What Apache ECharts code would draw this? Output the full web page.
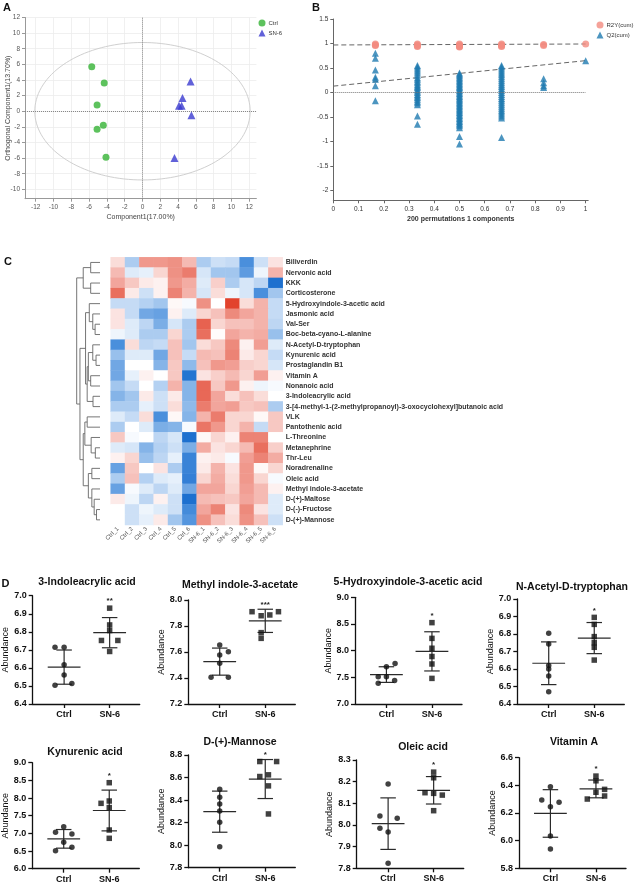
<!DOCTYPE html>
<html>
<head>
<meta charset="utf-8">
<script src="https://cdn.jsdelivr.net/npm/echarts@6.0.0/dist/echarts.min.js"></script>
<style>html,body{margin:0;padding:0;background:#fff;}#chart{width:634px;height:885px;}</style>
</head>
<body>
<div id="chart"></div>
<script>
// ================= DATA =================
// Panel A (OPLS-DA score plot)
const plsCtrl = [[-5.7,5.7],[-4.3,3.6],[-5.1,0.8],[-4.4,-1.8],[-5.1,-2.3],[-4.1,-5.9]];
const plsSN6  = [[5.4,3.8],[4.5,1.7],[4.1,0.7],[4.4,0.7],[5.5,-0.5],[3.6,-6.0]];
const ellipseCenter = [0, 0];
const ellipseRadii = [12.1, 8.8];
const plsXTicks = [-12,-10,-8,-6,-4,-2,0,2,4,6,8,10,12];
const plsYTicks = [-10,-8,-6,-4,-2,0,2,4,6,8,10,12];

// Panel B (permutation test)
const permX = [0.1667, 0.3333, 0.5, 0.6667, 0.8333, 1];
const r2yAt = [
  [0.99,0.97,0.96],
  [0.99,0.97,0.95,0.94],
  [0.99,0.97,0.95,0.94,0.93],
  [0.99,0.97,0.95,0.94],
  [0.98,0.96],
  [0.99]
];
const q2At1 = [0.80,0.70,0.46,0.31,0.27,0.14,-0.17];
const q2At2 = [0.55,0.52,0.48,0.44,0.40,0.35,0.30,0.27,0.23,0.20,0.16,0.13,0.10,0.06,0.03,0.00,-0.04,-0.07,-0.10,-0.14,-0.18,-0.21,-0.25,-0.48,-0.65];
const q2At3 = [0.40,0.37,0.34,0.31,0.28,0.25,0.22,0.19,0.16,0.13,0.10,0.07,0.04,0.01,-0.02,-0.05,-0.08,-0.11,-0.14,-0.17,-0.20,-0.23,-0.26,-0.29,-0.32,-0.35,-0.38,-0.41,-0.44,-0.47,-0.50,-0.53,-0.56,-0.59,-0.62,-0.65,-0.68,-0.72,-0.90,-1.05];
const q2At4 = [0.55,0.52,0.48,0.44,0.40,0.36,0.32,0.28,0.24,0.20,0.16,0.12,0.08,0.04,0.00,-0.04,-0.08,-0.12,-0.16,-0.20,-0.24,-0.28,-0.32,-0.36,-0.40,-0.44,-0.48,-0.52,-0.92];
const q2At5 = [0.28,0.20,0.14,0.10];
const q2At6 = [0.65];
const r2yFit = [[0,0.97],[1,0.99]];
const q2Fit = [[0,0.13],[1,0.65]];
const permXTicks = [0,0.1,0.2,0.3,0.4,0.5,0.6,0.7,0.8,0.9,1];
const permYTicks = [-2,-1.5,-1,-0.5,0,0.5,1,1.5];

// Panel C (heatmap)
const samples = ['Ctrl_1','Ctrl_2','Ctrl_3','Ctrl_4','Ctrl_5','Ctrl_6','SN-6_1','SN-6_2','SN-6_3','SN-6_4','SN-6_5','SN-6_6'];
const metabolites = ['Biliverdin','Nervonic acid','KKK','Corticosterone','5-Hydroxyindole-3-acetic acid','Jasmonic acid','Val-Ser','Boc-beta-cyano-L-alanine','N-Acetyl-D-tryptophan','Kynurenic acid','Prostaglandin B1','Vitamin A','Nonanoic acid','3-Indoleacrylic acid','3-[4-methyl-1-(2-methylpropanoyl)-3-oxocyclohexyl]butanoic acid','VLK','Pantothenic acid','L-Threonine','Metanephrine','Thr-Leu','Noradrenaline','Oleic acid','Methyl indole-3-acetate','D-(+)-Maltose','D-(-)-Fructose','D-(+)-Mannose'];
const heatValues = [
 [0.5,-1.0,1.5,1.5,1.6,1.0,-1.0,-0.6,-0.7,-2.0,-0.6,0.4],
 [1.0,-0.4,-0.3,0.6,1.6,1.9,-0.5,-1.1,-1.1,-1.8,-0.2,1.1],
 [1.3,0.8,0.3,0.2,1.5,1.2,-0.4,0.7,-1.0,-0.5,-0.8,-2.8],
 [2.1,0.3,-0.6,0.2,1.8,1.1,-0.5,0.5,-0.2,-0.5,-2.0,-1.1],
 [-0.7,-0.7,-0.9,-1.1,0.1,-0.1,1.6,0.0,2.8,0.5,1.1,-0.7],
 [0.4,-0.7,-1.6,-1.7,0.2,-0.4,0.6,0.9,1.7,1.3,1.1,-0.7],
 [0.4,-0.4,-0.8,-1.5,-0.5,-1.0,2.3,0.6,0.9,0.9,1.1,-0.8],
 [-0.2,-0.4,-1.0,-1.0,0.6,-1.0,2.1,0.05,1.3,1.1,1.2,-1.2],
 [-2.0,0.5,-0.8,-0.7,0.9,-1.1,0.5,0.8,1.7,0.2,1.4,-0.4],
 [-1.2,-0.4,-0.4,-1.6,0.9,-0.7,1.0,0.9,1.8,0.3,0.6,-0.7],
 [-1.6,0.0,0.0,-1.4,0.8,-1.3,0.9,1.5,1.4,0.7,0.6,-0.5],
 [-1.6,-0.3,0.2,0.0,0.8,-2.7,0.4,0.7,1.0,0.6,1.4,0.2],
 [-1.1,-0.7,0.0,-0.9,1.1,-1.4,2.2,0.8,1.5,0.2,-0.2,-0.1],
 [-1.4,-1.1,0.3,-0.6,0.3,-1.4,2.2,1.3,0.5,0.9,0.5,0.0],
 [-1.0,-1.0,-0.3,-0.6,0.5,-1.3,1.9,1.3,1.4,0.8,0.9,-1.0],
 [-0.4,-0.7,0.5,-2.0,0.1,-1.4,1.1,1.9,0.6,0.6,0.1,0.8],
 [-1.0,0.0,-0.4,-1.5,-1.4,-0.1,2.0,1.5,0.6,1.1,-0.7,0.8],
 [0.8,-0.1,0.0,-0.8,-0.5,-2.8,0.1,0.6,0.2,1.8,1.8,0.0],
 [-0.4,-0.5,-1.4,-0.9,-0.6,-1.5,1.2,0.4,0.6,1.0,2.1,0.7],
 [0.2,0.6,-1.2,-0.8,-0.3,-2.3,0.2,0.3,-0.1,1.4,1.8,1.2],
 [-1.7,0.8,0.0,0.4,-1.0,-2.3,0.3,1.1,0.4,1.5,0.1,0.6],
 [-1.0,0.9,-0.9,-0.4,-0.3,-2.4,0.6,1.2,0.5,1.5,0.6,-0.1],
 [-1.7,-0.1,-0.4,-0.8,-0.4,-1.6,1.3,1.3,0.6,1.4,1.0,0.2],
 [0.3,-0.2,-0.8,0.2,-0.6,-2.8,1.0,0.9,0.8,1.3,1.0,-0.4],
 [0.0,-0.6,-0.2,-0.4,-0.6,-2.1,1.3,1.8,0.4,1.7,0.4,-0.4],
 [0.0,-0.6,-0.3,0.3,-1.1,-1.9,1.6,0.9,0.5,1.6,0.9,-0.6]
];
// row dendrogram: [left, right, mergeHeight]; leaves are row indices
const dendroTop = [[0,1,0.4],[2,3,0.4],0.72];
const dendroLowerA = [[4,[5,[6,7,0.21],0.31],0.46],[[[8,[9,10,0.17],0.31],[11,12,0.4],0.5],[13,14,0.3],0.55],0.62];
const dendroLowerB = [[[15,16,0.55],[17,[18,19,0.2],0.38],0.65],[[20,21,0.35],[22,[23,[24,25,0.15],0.25],0.35],0.5],0.72];
const dendroRoot = [dendroTop, [dendroLowerA, dendroLowerB, 0.86], 1.0];

// Panel D (dot plots, mean ± SD)
const groupNames = ['Ctrl','SN-6'];
const dTitles = ['3-Indoleacrylic acid','Methyl indole-3-acetate','5-Hydroxyindole-3-acetic acid','N-Acetyl-D-tryptophan','Kynurenic acid','D-(+)-Mannose','Oleic acid','Vitamin A'];
const dSig = ['**','***','*','*','*','*','*','*'];
const dYScale = [[6.4,7.0,0.1],[7.2,8.0,0.2],[7.0,9.0,0.5],[6.4,7.0,0.1],[6.0,9.0,0.5],[7.8,8.8,0.2],[7.8,8.3,0.1],[5.8,6.6,0.2]];
const iaCtrl = [6.715,6.715,6.618,6.56,6.504,6.514],   iaCtrlJit = [-0.2,0,0,0,-0.2,0.17];
const iaSN6  = [6.931,6.838,6.807,6.752,6.752,6.691],  iaSN6Jit  = [0,0,0,-0.18,0.18,0];
const miaCtrl = [7.654,7.602,7.577,7.513,7.405,7.405], miaCtrlJit = [0,0.19,0,0,-0.19,0.19];
const miaSN6  = [7.91,7.879,7.885,7.91,7.749,7.705],   miaSN6Jit  = [-0.29,-0.09,0.1,0.29,-0.09,-0.09];
const hiaaCtrl = [7.70,7.76,7.51,7.51,7.39,7.44],      hiaaCtrlJit = [0,0.19,-0.18,0,-0.18,0.18];
const hiaaSN6  = [8.525,8.23,8.045,7.89,7.75,7.48],    hiaaSN6Jit  = [0,0,0,0,0,0];
const natCtrl = [6.804,6.743,6.62,6.60,6.56,6.47],     natCtrlJit = [0,0,0,0,0,0];
const natSN6  = [6.895,6.855,6.785,6.75,6.724,6.651],  natSN6Jit  = [0,0,0,0,0,0];
const kynaCtrl = [7.19,7.03,6.98,6.75,6.51,6.61],      kynaCtrlJit = [0,-0.18,0.18,0,-0.18,0.18];
const kynaSN6  = [8.434,7.85,7.916,7.73,7.095,6.86],   kynaSN6Jit  = [0,-0.18,0,0,0,0];
const manCtrl = [8.497,8.426,8.366,8.304,8.203,7.987], manCtrlJit = [0,0,0,0,0,0];
const manSN6  = [8.742,8.742,8.624,8.609,8.526,8.277], manSN6Jit  = [-0.12,0.25,0.07,-0.12,0.07,0.07];
const oleCtrl = [8.189,8.041,8.031,7.985,7.968,7.823], oleCtrlJit = [0,-0.18,0.2,-0.18,0,0];
const oleSN6  = [8.244,8.218,8.149,8.146,8.138,8.066], oleSN6Jit  = [0,0,-0.19,0,0.19,0];
const vitaCtrl = [6.39,6.294,6.277,6.245,6.034,5.94],  vitaCtrlJit = [0,-0.19,0.19,0,0,0];
const vitaSN6  = [6.467,6.433,6.35,6.371,6.323,6.301], vitaSN6Jit  = [0,0,0,0.19,0.19,-0.19];

// ================= BUILD =================
const FONT = '"Liberation Sans", Arial, Helvetica, sans-serif';
const chart = echarts.init(document.getElementById('chart'), null, {renderer:'canvas', width:634, height:885});

const dGroups = [
  [iaCtrl,iaCtrlJit,iaSN6,iaSN6Jit],[miaCtrl,miaCtrlJit,miaSN6,miaSN6Jit],
  [hiaaCtrl,hiaaCtrlJit,hiaaSN6,hiaaSN6Jit],[natCtrl,natCtrlJit,natSN6,natSN6Jit],
  [kynaCtrl,kynaCtrlJit,kynaSN6,kynaSN6Jit],[manCtrl,manCtrlJit,manSN6,manSN6Jit],
  [oleCtrl,oleCtrlJit,oleSN6,oleSN6Jit],[vitaCtrl,vitaCtrlJit,vitaSN6,vitaSN6Jit]
];
// layout of D plots (pixels)
const dLayout = [
  {left:32.7, top:595.7, height:108.3, tx:87,  ty:581.7},
  {left:188.3,top:600,   height:104,   tx:240, ty:585},
  {left:355,  top:597.3, height:106.7, tx:408, ty:582.3},
  {left:517.3,top:599,   height:105,   tx:572, ty:587.3},
  {left:32.3, top:762.7, height:106,   tx:85,  ty:751.7},
  {left:188.3,top:755,   height:112.7, tx:240, ty:742.3},
  {left:356.7,top:760,   height:108.3, tx:423, ty:746.7},
  {left:519,  top:757.7, height:110.6, tx:574, ty:742.3}
];

const grids = [
  {left:25, top:17.5, width:231.4, height:181.2},
  {left:333.3, top:19, width:254.9, height:181.3},
  {left:110.7, top:257.3, width:172, height:267.7},
  {left:76.7, top:257.3, width:23.3, height:267.7}
];
dLayout.forEach(l => grids.push({left:l.left, top:l.top, width:107, height:l.height}));
grids.forEach(g => { g.outerBoundsMode = 'none'; g.containLabel = false; });

const xAxes = [], yAxes = [];
// A axes
xAxes.push({type:'value', gridIndex:0, min:-13.2, max:12.8,
  axisLine:{show:true, onZero:false, lineStyle:{color:'#999', width:1}},
  axisTick:{show:true, customValues:plsXTicks, length:3, lineStyle:{color:'#999'}},
  axisLabel:{customValues:plsXTicks, fontSize:6.5, color:'#555', margin:5, fontFamily:FONT},
  splitLine:{show:true, lineStyle:{color:'#ececec', width:0.8}},
  name:'Component1(17.00%)', nameLocation:'middle', nameGap:15, nameMoveOverlap:false, nameTextStyle:{fontSize:7, color:'#444', fontFamily:FONT}});
yAxes.push({type:'value', gridIndex:0, min:-11.2, max:12,
  axisLine:{show:true, onZero:false, lineStyle:{color:'#999', width:1}},
  axisTick:{show:true, customValues:plsYTicks, length:3, lineStyle:{color:'#999'}},
  axisLabel:{customValues:plsYTicks, fontSize:6.5, color:'#555', margin:5, fontFamily:FONT},
  splitLine:{show:true, lineStyle:{color:'#ececec', width:0.8}},
  name:'Orthogonal Component1(13.70%)', nameLocation:'middle', nameGap:13, nameMoveOverlap:false, nameTextStyle:{fontSize:7, color:'#444', fontFamily:FONT}});
// B axes
xAxes.push({type:'value', gridIndex:1, min:0, max:1.01,
  axisLine:{show:true, onZero:false, lineStyle:{color:'#666', width:1}},
  axisTick:{show:true, customValues:permXTicks, length:3, lineStyle:{color:'#666'}},
  axisLabel:{customValues:permXTicks, fontSize:6.5, color:'#333', margin:5, fontFamily:FONT},
  splitLine:{show:false},
  name:'200 permutations 1 components', nameLocation:'middle', nameGap:15, nameMoveOverlap:false, nameTextStyle:{fontSize:7, fontWeight:'bold', color:'#333', fontFamily:FONT}});
yAxes.push({type:'value', gridIndex:1, min:-2.2, max:1.5,
  axisLine:{show:true, onZero:false, lineStyle:{color:'#666', width:1}},
  axisTick:{show:true, customValues:permYTicks, length:3, lineStyle:{color:'#666'}},
  axisLabel:{customValues:permYTicks, fontSize:6.5, color:'#333', margin:5, fontFamily:FONT},
  splitLine:{show:false}});
// C heatmap axes
xAxes.push({type:'category', gridIndex:2, data:samples, axisLine:{show:false}, axisTick:{show:false}, splitLine:{show:false},
  axisLabel:{interval:0, rotate:45, fontSize:6, color:'#555', margin:3, fontFamily:FONT}});
yAxes.push({type:'category', gridIndex:2, data:metabolites, inverse:true, position:'right', axisLine:{show:false}, axisTick:{show:false}, splitLine:{show:false},
  axisLabel:{interval:0, fontSize:7, fontWeight:'bold', color:'#333', margin:3, fontFamily:FONT}});
// dendrogram axes
xAxes.push({type:'value', gridIndex:3, min:0, max:1, inverse:true, show:false});
yAxes.push({type:'value', gridIndex:3, min:0, max:metabolites.length, inverse:true, show:false});
// D axes
dYScale.forEach((s, k) => {
  xAxes.push({type:'value', gridIndex:4+k, min:-0.69, max:1.66,
    axisLine:{show:true, onZero:false, lineStyle:{color:'#111', width:1.3}},
    axisTick:{show:true, customValues:[0,1], length:4, lineStyle:{color:'#111', width:1.3}},
    axisLabel:{customValues:[0,1], formatter:v => groupNames[Math.round(v)], fontSize:9, fontWeight:'bold', color:'#111', margin:6, fontFamily:FONT},
    splitLine:{show:false}});
  yAxes.push({type:'value', gridIndex:4+k, min:s[0], max:s[1], interval:s[2],
    axisLine:{show:true, onZero:false, lineStyle:{color:'#111', width:1.3}},
    axisTick:{show:true, length:4, lineStyle:{color:'#111', width:1.3}},
    axisLabel:{formatter:v => v.toFixed(1), fontSize:9, fontWeight:'bold', color:'#111', margin:6, fontFamily:FONT},
    splitLine:{show:false},
    name:'Abundance', nameLocation:'middle', nameGap:21, nameTextStyle:{fontSize:9, color:'#111', fontFamily:FONT}});
});

const series = [];
// ---- A
series.push({type:'custom', name:'ellipse', xAxisIndex:0, yAxisIndex:0, silent:true, z:1, data:[ellipseCenter],
  renderItem:(p, api) => {
    const cx = api.value(0), cy = api.value(1), pts = [];
    for (let i = 0; i <= 144; i++) {
      const t = i / 144 * 2 * Math.PI;
      pts.push(api.coord([cx + ellipseRadii[0]*Math.cos(t), cy + ellipseRadii[1]*Math.sin(t)]));
    }
    return {type:'polyline', shape:{points:pts}, style:{fill:'none', stroke:'#d0d0d0', lineWidth:1}};
  }});
series.push({type:'scatter', name:'Ctrl', xAxisIndex:0, yAxisIndex:0, symbol:'circle', symbolSize:7, z:5,
  itemStyle:{color:'#35b335'}, data:plsCtrl,
  markLine:{silent:true, symbol:'none', label:{show:false}, lineStyle:{type:'dotted', color:'#888', width:1},
    data:[{xAxis:0},{yAxis:0}]}});
series.push({type:'scatter', name:'SN-6', xAxisIndex:0, yAxisIndex:0, symbol:'triangle', symbolSize:8, z:5,
  itemStyle:{color:'#3a3ad0'}, data:plsSN6});

// ---- B
const q2Lists = [q2At1,q2At2,q2At3,q2At4,q2At5,q2At6];
const q2Data = [], r2yData = [];
permX.forEach((x,i) => {
  q2Lists[i].forEach(v => q2Data.push([x, v]));
  r2yAt[i].forEach(v => r2yData.push([x, v]));
});
series.push({type:'line', name:'r2yFit', xAxisIndex:1, yAxisIndex:1, data:r2yFit, symbol:'none', silent:true, z:2,
  lineStyle:{color:'#666', width:1, type:[5,3]}});
series.push({type:'line', name:'q2Fit', xAxisIndex:1, yAxisIndex:1, data:q2Fit, symbol:'none', silent:true, z:2,
  lineStyle:{color:'#666', width:1, type:[5,3]}});
series.push({type:'scatter', name:'Q2(cum)', xAxisIndex:1, yAxisIndex:1, symbol:'triangle', symbolSize:7, z:3,
  itemStyle:{color:'#1f7bb0'}, data:q2Data,
  markLine:{silent:true, symbol:'none', label:{show:false}, lineStyle:{type:'dotted', color:'#777', width:1},
    data:[[{coord:[0,0]},{coord:[1,0]}]]}});
series.push({type:'scatter', name:'R2Y(cum)', xAxisIndex:1, yAxisIndex:1, symbol:'circle', symbolSize:7, z:3,
  itemStyle:{color:'#f28b7f'}, data:r2yData});

// ---- C heatmap
const heatData = [];
heatValues.forEach((row, r) => row.forEach((v, c) => heatData.push([c, r, v])));
const heatIndex = series.length;
series.push({type:'heatmap', name:'heat', xAxisIndex:2, yAxisIndex:2, data:heatData, silent:true,
  itemStyle:{borderWidth:0}, emphasis:{disabled:true}});
// dendrogram
const dendroSegs = [];
function layoutTree(node) {
  if (typeof node === 'number') return {h:0, y:node + 0.5};
  const a = layoutTree(node[0]), b = layoutTree(node[1]), h = node[2];
  dendroSegs.push({coords:[[a.h,a.y],[h,a.y],[h,b.y],[b.h,b.y]]});
  return {h:h, y:(a.y + b.y) / 2};
}
layoutTree(dendroRoot);
series.push({type:'lines', name:'dendro', coordinateSystem:'cartesian2d', xAxisIndex:3, yAxisIndex:3, polyline:true,
  silent:true, data:dendroSegs, lineStyle:{color:'#666', width:0.9, opacity:1}});

// ---- D
function meanSd(arr) {
  const m = arr.reduce((s,v)=>s+v,0)/arr.length;
  const sd = Math.sqrt(arr.reduce((s,v)=>s+(v-m)*(v-m),0)/(arr.length-1));
  return [m, sd];
}
const MEAN_HALF = 0.36, CAP_HALF = 0.17;
dGroups.forEach((g, k) => {
  const ax = 4 + k;
  const [cv, cj, sv, sj] = g;
  const cs = meanSd(cv), ss = meanSd(sv);
  series.push({type:'custom', name:'err'+k, xAxisIndex:ax, yAxisIndex:ax, silent:true, z:2,
    data:[[0, cs[0], cs[1]], [1, ss[0], ss[1]]],
    renderItem:(p, api) => {
      const x = api.value(0), m = api.value(1), s = api.value(2);
      const st = {stroke:'#2a2a2a', lineWidth:1.2};
      const seg = (a, b) => { const p1 = api.coord(a), p2 = api.coord(b);
        return {type:'line', shape:{x1:p1[0], y1:p1[1], x2:p2[0], y2:p2[1]}, style:st}; };
      return {type:'group', children:[
        seg([x-MEAN_HALF, m],[x+MEAN_HALF, m]),
        seg([x, m-s],[x, m+s]),
        seg([x-CAP_HALF, m+s],[x+CAP_HALF, m+s]),
        seg([x-CAP_HALF, m-s],[x+CAP_HALF, m-s])
      ]};
    }});
  series.push({type:'scatter', name:'d'+k+'-Ctrl', xAxisIndex:ax, yAxisIndex:ax, symbol:'circle', symbolSize:5.5, z:4,
    itemStyle:{color:'#111'}, data:cv.map((v,i)=>[0 + cj[i], v])});
  series.push({type:'scatter', name:'d'+k+'-SN6', xAxisIndex:ax, yAxisIndex:ax, symbol:'rect', symbolSize:5.5, z:4,
    itemStyle:{color:'#111'}, data:sv.map((v,i)=>[1 + sj[i], v])});
  series.push({type:'custom', name:'sig'+k, xAxisIndex:ax, yAxisIndex:ax, silent:true, z:4,
    data:[[1, Math.max.apply(null, sv)]],
    renderItem:(p, api) => {
      const pt = api.coord([api.value(0), api.value(1)]);
      return {type:'text', x:pt[0], y:pt[1]-7,
        style:{text:dSig[k], fill:'#222', font:'bold 8px '+FONT, align:'center', verticalAlign:'middle', textAlign:'center', textVerticalAlign:'middle'}};
    }});
});

// ---- text graphics (panel letters & D titles)
const gfx = [];
const letter = (t, x, y) => gfx.push({type:'text', x:x, y:y, silent:true,
  style:{text:t, font:'bold 11px '+FONT, fill:'#111', align:'center', verticalAlign:'middle', textAlign:'center', textVerticalAlign:'middle'}});
letter('A', 7, 8); letter('B', 316, 8); letter('C', 8, 262); letter('D', 5.5, 584);
dTitles.forEach((t, k) => gfx.push({type:'text', x:dLayout[k].tx, y:dLayout[k].ty, silent:true,
  style:{text:t, font:'bold 10.5px '+FONT, fill:'#111', align:'center', verticalAlign:'middle', textAlign:'center', textVerticalAlign:'middle'}}));

chart.setOption({
  animation:false,
  backgroundColor:'#ffffff',
  textStyle:{fontFamily:FONT},
  grid:grids,
  xAxis:xAxes,
  yAxis:yAxes,
  visualMap:[{type:'continuous', show:false, seriesIndex:heatIndex, dimension:2, min:-3, max:3,
    inRange:{color:['#1268cc','#4a8fdc','#acccf0','#ffffff','#f5bab3','#ea7565','#e0361f']}}],
  legend:[
    {left:258.5, top:19.5, padding:0, orient:'vertical', itemWidth:7, itemHeight:7, itemGap:3, selectedMode:false,
      textStyle:{fontSize:6, color:'#333', fontFamily:FONT, padding:[0,0,0,-2]},
      data:[{name:'Ctrl', icon:'circle'},{name:'SN-6', icon:'triangle'}]},
    {left:596.5, top:21.5, padding:0, orient:'vertical', itemWidth:7, itemHeight:7, itemGap:3, selectedMode:false,
      textStyle:{fontSize:6, color:'#333', fontFamily:FONT, padding:[0,0,0,-2]},
      data:[{name:'R2Y(cum)', icon:'circle'},{name:'Q2(cum)', icon:'triangle'}]}
  ],
  graphic:{elements:gfx},
  series:series
});
</script>
</body>
</html>
